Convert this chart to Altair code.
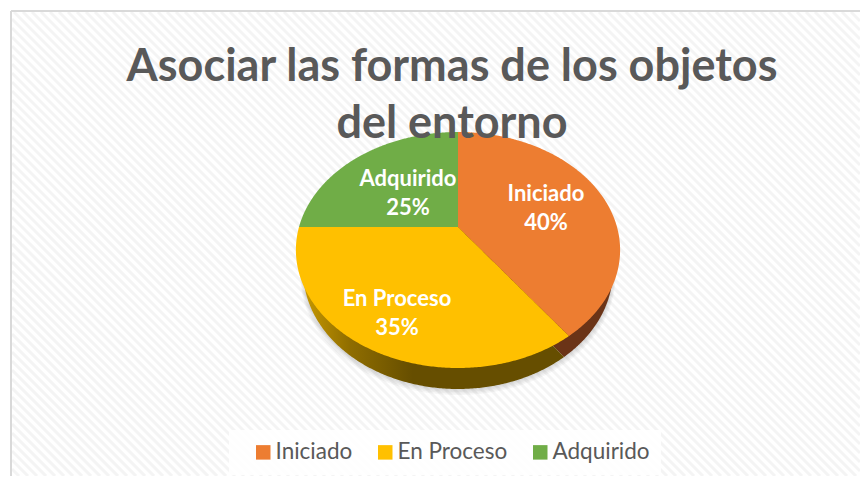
import numpy as np
import pandas as pd
import altair as alt

# ---- data ----
estados = ["Iniciado", "En Proceso", "Adquirido"]
valores = [40, 35, 25]
colores = ["#ED7D31", "#FFC000", "#70AD47"]
label_x = [546, 397, 408]
label_y = [194, 299, 179]
titulo = ["Asociar las formas de los objetos", "del entorno"]

# ---- page geometry (image pixels) ----
W, H = 852, 468
X0, Y0 = 8, 8
CX, CY = 458, 227      # where the slices meet
A, B, K = 159.0, 113.5, 0.195   # tilted-disc perspective
DEPTH, SHRINK = 21, 0.955
HATCH_STEP = 9.0


def project(theta, shrink=1.0, shift=0.0):
    u, v = np.sin(theta), -np.cos(theta)
    w = 1 - K * v
    return CX + shrink * A * u / w, CY + shift + B * v / w


def sector(t0, t1, name, shrink=1.0, shift=0.0):
    """Upper and lower edge over x for one convex slice of the tilted disc."""
    th = np.linspace(t0, t1, 240)
    x, y = project(th, shrink, shift)
    cy = CY + shift
    px = np.r_[CX, x, CX]
    py = np.r_[cy, y, cy]
    i0, i1 = int(np.argmin(px)), int(np.argmax(px))
    n = len(px) - 1
    def chain(a, b):
        idx = [a]
        while idx[-1] != b:
            idx.append((idx[-1] + 1) % n)
        return px[idx], py[idx]
    c1x, c1y = chain(i0, i1)
    c2x, c2y = chain(i1, i0)
    c2x, c2y = c2x[::-1], c2y[::-1]
    xs = np.unique(np.r_[c1x, c2x])
    o1, o2 = np.argsort(c1x, kind="stable"), np.argsort(c2x, kind="stable")
    y1 = np.interp(xs, c1x[o1], c1y[o1])
    y2 = np.interp(xs, c2x[o2], c2y[o2])
    return pd.DataFrame({"x": xs, "y": y1, "y2": y2, "estado": name})


edges = np.cumsum([0] + valores) / sum(valores) * 2 * np.pi
top = pd.concat([sector(edges[i], edges[i + 1], estados[i]) for i in range(3)])
wall_orange = sector(edges[0], edges[1], "a", SHRINK, DEPTH)
wall_yellow = sector(edges[1], edges[2], "b", SHRINK, DEPTH)
shadow = pd.concat([
    sector(edges[i], edges[i + 1], f"s{i}{j}", SHRINK + 0.004 * (j + 1), DEPTH + 1.5 * (j + 1))
    for i in range(3) for j in range(4)
])

xs = alt.X("x:Q", scale=alt.Scale(domain=[X0, X0 + W], range=[0, W]), axis=None)
ys = alt.Y("y:Q", scale=alt.Scale(domain=[Y0, Y0 + H], range=[0, H]), axis=None, stack=None)
x2 = alt.X2("x2:Q")
y2 = alt.Y2("y2:Q")

# diagonal page texture
XMAX, YMAX = X0 + W, Y0 + H
hatch_rows = []
for c in np.arange(12 - XMAX, YMAX - 12, HATCH_STEP):
    xa = max(12, 12 - c)
    xb = min(XMAX, YMAX - c)
    if xb > xa:
        hatch_rows.append({"x": xa, "y": xa + c, "x2": xb, "y2": xb + c})
hatch = alt.Chart(pd.DataFrame(hatch_rows)).mark_rule(color="#f4f4f4", strokeWidth=3).encode(x=xs, y=ys, x2=x2, y2=y2)

frame = alt.Chart(pd.DataFrame({"x": [11, 11], "y": [11, 11], "x2": [11, XMAX], "y2": [YMAX, 11]})).mark_rule(
    color="#d9d9d9", strokeWidth=2
).encode(x=xs, y=ys, x2=x2, y2=y2)

legend_box = alt.Chart(pd.DataFrame({"x": [229], "x2": [661], "y": [430], "y2": [475]})).mark_rect(
    color="white", opacity=0.85
).encode(x=xs, x2=x2, y=ys, y2=y2)


def area(df, **kw):
    return alt.Chart(df).mark_area(orient="vertical", **kw).encode(x=xs, y=ys, y2=y2, detail="estado:N")


shadow_l = area(shadow, color="#555555", opacity=0.05)
wall_o = area(wall_orange, color="#6B3417")
wall_y = area(
    wall_yellow,
    color=alt.LinearGradient(
        gradient="linear", x1=0, x2=1, y1=0, y2=0,
        stops=[
            alt.GradientStop(color="#C79800", offset=0),
            alt.GradientStop(color="#8F6D00", offset=0.18),
            alt.GradientStop(color="#664E00", offset=0.42),
            alt.GradientStop(color="#664E00", offset=1),
        ],
    ),
)

faces = alt.Chart(top).mark_area(orient="vertical").encode(
    x=xs, y=ys, y2=y2,
    color=alt.Color(
        "estado:N",
        scale=alt.Scale(domain=estados, range=colores),
        legend=alt.Legend(
            title=None, orient="none", legendX=240, legendY=429, direction="horizontal",
            symbolType="square", symbolSize=210, symbolStrokeWidth=0, symbolOpacity=1,
            labelFont="Lato", labelFontSize=22.5, labelColor="#595959", labelOffset=1,
            columnPadding=21, padding=4,
        ),
    ),
)

labels = alt.Chart(pd.DataFrame({
    "x": label_x, "y": label_y,
    "t": [f"{e}\n{v}%" for e, v in zip(estados, valores)],
})).mark_text(
    font="Lato", fontWeight="bold", fontSize=22, color="white", lineBreak="\n", lineHeight=29,
    align="center", baseline="middle",
).encode(x=xs, y=ys, text="t:N")

chart = alt.layer(hatch, frame, legend_box, shadow_l, wall_o, wall_y, faces, labels).properties(
    width=W, height=H, padding=0, autosize=alt.AutoSizeParams(type="none"),
    background="white",
    title=alt.TitleParams(
        text=titulo, font="Lato", fontSize=45, fontWeight="bold", color="#595959",
        anchor="middle", frame="group", lineHeight=57, dy=139, dx=18, offset=0, zindex=1,
    ),
).configure_view(stroke=None)

chart.save("out.html", embed_options={"renderer": "svg", "actions": False})
